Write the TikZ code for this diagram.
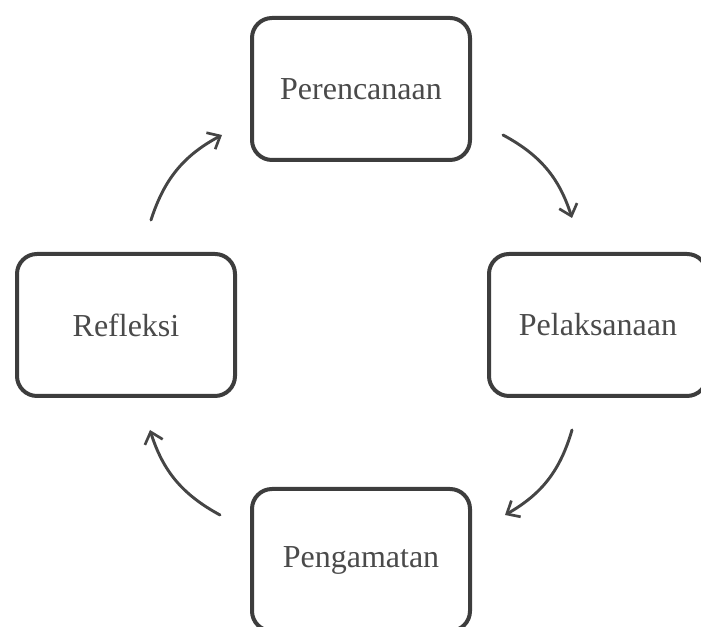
\documentclass[tikz,border=0pt]{standalone}
\usepackage{fontspec}
\setmainfont{Liberation Serif}
\usetikzlibrary{arrows.meta,calc}
\definecolor{boxgray}{HTML}{3D3D3D}
\definecolor{txtgray}{HTML}{4A4A4A}
\definecolor{arrgray}{HTML}{454545}
\begin{document}
\begin{tikzpicture}[x=0.75pt,y=0.75pt,
    stage/.style={draw=boxgray,line width=3pt,rounded corners=15pt,
      fill=white,minimum width=163.5pt,minimum height=106.5pt,
      text=txtgray,font=\fontsize{24}{28}\selectfont},
    cyc/.style={draw=arrgray,line width=2.2pt,line cap=round,
      -{Straight Barb[length=8pt,width=14pt,line width=2pt]}}]
    \useasboundingbox (0,0) rectangle (701,627);
    \clip (0,0) rectangle (701,627);
    % the four stages
    \node[stage] (plan) at (361,538) {Perencanaan};
    \node[stage] (pel)  at (598,302) {Pelaksanaan};
    \node[stage] (obs)  at (361,67)  {Pengamatan};
    \node[stage] (refl) at (126,302) {Refleksi};
    % the cycle
    \draw[cyc] ($(refl.north)+(25,32)$) to[bend left=22] ($(plan.west)+(-28,-46)$);
    \draw[cyc] ($(plan.east)+(31,-46)$) to[bend left=22] ($(pel.north)+(-26,34)$);
    \draw[cyc] ($(pel.south)+(-26,-32)$) to[bend left=22] ($(obs.east)+(33,45)$);
    \draw[cyc] ($(obs.west)+(-30,45)$) to[bend left=22] ($(refl.south)+(24,-32)$);
  \end{tikzpicture}
\end{document}
